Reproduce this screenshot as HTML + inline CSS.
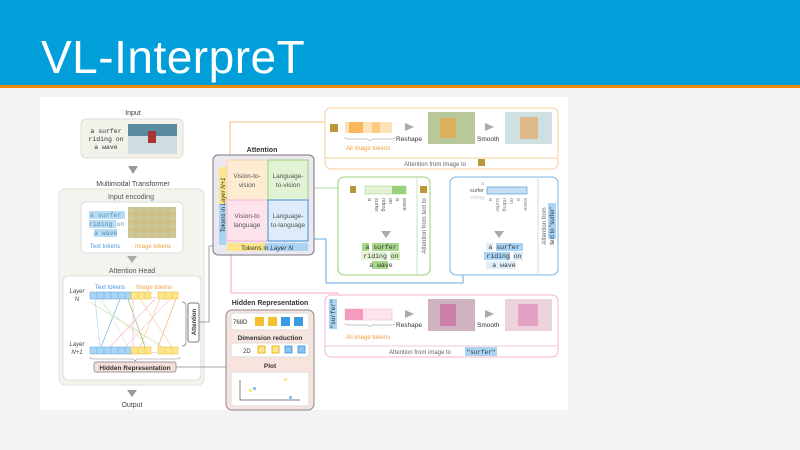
<!DOCTYPE html>
<html><head><meta charset="utf-8"><style>
html,body{margin:0;padding:0;width:800px;height:450px;overflow:hidden;background:#f3f3f3;font-family:"Liberation Sans",sans-serif}
#hdr{position:absolute;left:0;top:0;width:800px;height:85px;background:#019fda}
#ln{position:absolute;left:0;top:85px;width:800px;height:3px;background:#f08a00}
#t{position:absolute;left:41px;top:30px;color:#fff;font-size:46px;font-weight:300;letter-spacing:0.5px}
svg{position:absolute;left:0;top:0}
</style></head><body>
<div id="hdr"></div><div id="ln"></div><div id="t">VL-InterpreT</div>
<svg width="800" height="450" font-family="Liberation Sans, sans-serif">
<rect x="40" y="97" width="528" height="313" fill="#fff"/>
<text x="133" y="115" font-size="7" text-anchor="middle" fill="#444">Input</text>
<rect x="81" y="119" width="102" height="39" rx="5" fill="#f2f1ea" stroke="#e0ded4"/>
<g font-family="Liberation Mono, monospace" font-size="6.5" fill="#333" text-anchor="middle">
<text x="106" y="133">a surfer</text><text x="106" y="141">riding on</text><text x="106" y="149">a wave</text></g>
<rect x="128" y="124" width="49" height="30" fill="#5a8aa0"/><rect x="128" y="136" width="49" height="18" fill="#cfdde0"/><rect x="148" y="131" width="8" height="12" fill="#a33"/>
<path d="M128 166 L138 166 L133 174 Z" fill="#999"/>
<text x="133" y="186" font-size="7" text-anchor="middle" fill="#444">Multimodal Transformer</text>
<rect x="59" y="189" width="145" height="196" rx="6" fill="#f4f3ee" stroke="#e3e1da"/>
<text x="131" y="199" font-size="7" text-anchor="middle" fill="#555">Input encoding</text>
<rect x="81" y="202" width="102" height="51" rx="5" fill="#fff" stroke="#ddd"/>
<g fill="#b7dcf4"><rect x="89" y="211" width="36" height="8"/><rect x="89" y="220" width="27" height="8"/><rect x="94" y="229" width="23" height="8"/></g>
<g font-family="Liberation Mono, monospace" font-size="6.5" fill="#5a8db5"><text x="90" y="217">a surfer</text><text x="89" y="226">riding on</text><text x="94" y="235">a wave</text></g>
<rect x="128" y="207" width="48" height="31" fill="#c9c79a"/>
<g stroke="#f0a040" stroke-width="0.6"><path d="M128 214H176M128 222H176M128 230H176M136 207V238M144 207V238M152 207V238M160 207V238M168 207V238"/></g>
<text x="105" y="248" font-size="6" text-anchor="middle" fill="#4a9be0">Text tokens</text>
<text x="153" y="248" font-size="6" text-anchor="middle" fill="#f0a040">Image tokens</text>
<path d="M127 256 L137 256 L132 263 Z" fill="#aaa"/>
<text x="132" y="273" font-size="7" text-anchor="middle" fill="#555">Attention Head</text>
<rect x="63" y="276" width="138" height="104" rx="5" fill="#fff" stroke="#ddd"/>
<g font-size="6" font-style="italic" fill="#444" text-anchor="middle"><text x="77" y="293">Layer</text><text x="77" y="301">N</text><text x="77" y="346">Layer</text><text x="77" y="354">N+1</text></g>
<text x="110" y="289" font-size="6" text-anchor="middle" fill="#4a9be0">Text tokens</text>
<text x="154" y="289" font-size="6" text-anchor="middle" fill="#f0a040">Image tokens</text>
<g stroke-width="0.7" opacity="0.8">
<path d="M95 299L100 347" stroke="#9cc9ee"/><path d="M120 299L101 347" stroke="#4a9be0"/><path d="M102 299L128 347" stroke="#c3dff4"/>
<path d="M90 302L163 347" stroke="#b8d88a"/><path d="M97 299L150 347" stroke="#d5e8b8"/><path d="M128 299L145 347" stroke="#6bb046"/>
<path d="M155 299L110 347" stroke="#f8a0c4"/><path d="M170 299L125 347" stroke="#f9bcd4"/><path d="M160 299L140 347" stroke="#f7c082"/>
<path d="M176 299L158 347" stroke="#f0a040"/><path d="M140 299L172 347" stroke="#f5c996"/><path d="M133 299L133 347" stroke="#f8a0c4"/>
</g>
<g stroke="#5aa7e0" stroke-width="0.5">
<rect x="90" y="292" width="41" height="7" fill="#a9d4f4"/><rect x="90" y="347" width="41" height="7" fill="#a9d4f4"/>
<path d="M97 292v7M104 292v7M111 292v7M118 292v7M125 292v7M97 347v7M104 347v7M111 347v7M118 347v7M125 347v7"/></g>
<g stroke="#e6b93a" stroke-width="0.5" fill="#fde68a">
<rect x="131" y="292" width="20" height="7"/><rect x="158" y="292" width="20" height="7"/><rect x="131" y="347" width="20" height="7"/><rect x="158" y="347" width="20" height="7"/>
<path d="M138 292v7M145 292v7M165 292v7M172 292v7M138 347v7M145 347v7M165 347v7M172 347v7"/></g>
<text x="154" y="298" font-size="6" text-anchor="middle" fill="#888">…</text><text x="154" y="353" font-size="6" text-anchor="middle" fill="#888">…</text>
<path d="M182 302 q4 0 4 4 v36 q0 4 -4 4" fill="none" stroke="#777" stroke-width="0.7"/>
<rect x="188" y="303" width="11" height="39" rx="2" fill="#fff" stroke="#555" stroke-width="0.8"/>
<text transform="translate(196,322) rotate(-90)" font-size="6" font-weight="bold" text-anchor="middle" fill="#333">Attention</text>
<path d="M90 357 q0 2 3 2 h40 l2 2 l2 -2 h40 q3 0 3 -2" fill="none" stroke="#888" stroke-width="0.6"/>
<rect x="94" y="362" width="82" height="10" rx="2" fill="#f5e0dc" stroke="#777" stroke-width="0.7"/>
<text x="135" y="370" font-size="6.5" font-weight="bold" text-anchor="middle" fill="#333">Hidden Representation</text>
<path d="M127 390 L137 390 L132 397 Z" fill="#999"/>
<text x="132" y="407" font-size="7" text-anchor="middle" fill="#444">Output</text>
<g fill="none" stroke-width="0.8">
<path d="M199 322 H209 V246 H213" stroke="#888"/>
<path d="M176 367 H226" stroke="#888"/>
<path d="M230 160 V122 H325" stroke="#f5b060"/>
<path d="M308 188 H338" stroke="#9ad07a"/>
<path d="M308 239 H326 V283 H463 V275" stroke="#3c8fd8"/>
<path d="M231 241 V293 H338 V296" stroke="#f38fb6"/>
</g>
<text x="262" y="152" font-size="7" font-weight="bold" text-anchor="middle" fill="#333">Attention</text>
<rect x="213" y="155" width="101" height="100" rx="5" fill="#ebe8f2" stroke="#777"/>
<rect x="219" y="167" width="7" height="37" fill="#fde68a"/><rect x="219" y="204" width="7" height="41" fill="#a9d4f4"/>
<text transform="translate(225,205) rotate(-90)" font-size="6" text-anchor="middle" fill="#333">Tokens in <tspan font-style="italic">Layer N+1</tspan></text>
<rect x="227" y="160" width="41" height="40" fill="#fdebd2" stroke="#f7d3a6"/>
<rect x="268" y="160" width="40" height="40" fill="#e2f2d4" stroke="#9ad07a"/>
<rect x="227" y="200" width="41" height="41" fill="#fde3ec" stroke="#f6b5cd"/>
<rect x="268" y="200" width="40" height="41" fill="#ddecf8" stroke="#3c8fd8"/>
<g font-size="6.5" fill="#555" text-anchor="middle">
<text x="247" y="178">Vision-to-</text><text x="247" y="187">vision</text>
<text x="288" y="178">Language-</text><text x="288" y="187">to-vision</text>
<text x="247" y="218">Vision-to</text><text x="247" y="227">language</text>
<text x="288" y="218">Language-</text><text x="288" y="227">to-language</text></g>
<rect x="227" y="243" width="38" height="8" fill="#fde68a"/><rect x="265" y="243" width="43" height="8" fill="#a9d4f4"/>
<text x="267" y="250" font-size="6.5" text-anchor="middle" fill="#333">Tokens in <tspan font-style="italic">Layer N</tspan></text>
<text x="270" y="305" font-size="7" font-weight="bold" text-anchor="middle" fill="#333">Hidden Representation</text>
<rect x="226" y="310" width="88" height="100" rx="6" fill="#f7e4df" stroke="#888"/>
<rect x="231" y="313" width="78" height="17" rx="3" fill="#fff" stroke="#ddd"/>
<text x="233" y="324" font-size="6" fill="#333">768D</text>
<g><rect x="255" y="317" width="9" height="9" fill="#f5c030"/><rect x="268" y="317" width="9" height="9" fill="#f5c030"/><rect x="281" y="317" width="9" height="9" fill="#3c9ae0"/><rect x="294" y="317" width="9" height="9" fill="#3c9ae0"/></g>
<text x="270" y="340" font-size="6.5" font-weight="bold" text-anchor="middle" fill="#333">Dimension reduction</text>
<rect x="231" y="343" width="78" height="14" rx="3" fill="#fff" stroke="#ddd"/>
<text x="243" y="353" font-size="6" fill="#333">2D</text>
<g stroke-width="0.8"><rect x="258" y="346" width="7" height="7" fill="#fde68a" stroke="#e6a800"/><rect x="272" y="346" width="7" height="7" fill="#fde68a" stroke="#e6a800"/><rect x="285" y="346" width="7" height="7" fill="#8cc4f0" stroke="#3c8fd8"/><rect x="298" y="346" width="7" height="7" fill="#8cc4f0" stroke="#3c8fd8"/></g>
<text x="270" y="368" font-size="6.5" font-weight="bold" text-anchor="middle" fill="#333">Plot</text>
<rect x="231" y="372" width="78" height="34" rx="3" fill="#fff" stroke="#ddd"/>
<path d="M240 380 V400 H300" fill="none" stroke="#555" stroke-width="0.7"/>
<rect x="249" y="389" width="3" height="3" fill="#fde68a"/><rect x="253" y="387" width="3" height="3" fill="#8cc4f0"/><rect x="284" y="378" width="3" height="3" fill="#fde68a"/><rect x="289" y="396" width="3" height="3" fill="#8cc4f0"/>
<rect x="325" y="108" width="233" height="61" rx="6" fill="#fff" stroke="#f7cf9e"/>
<path d="M325 158 H558" stroke="#f7cf9e"/>
<rect x="330" y="124" width="8" height="8" fill="#b9973a"/>
<rect x="345" y="122" width="47" height="11" fill="#fde2b8"/><rect x="349" y="122" width="14" height="11" fill="#f9b860"/><rect x="372" y="122" width="8" height="11" fill="#fcca80"/>
<path d="M345 137 q0 2 3 2 h20 l2 2 l2 -2 h20 q3 0 3 -2" fill="none" stroke="#888" stroke-width="0.5"/>
<text x="368" y="150" font-size="6" text-anchor="middle" fill="#f0a040">All image tokens</text>
<path d="M405 123 L414 127 L405 131 Z" fill="#aaa"/>
<text x="396" y="141" font-size="6.5" fill="#333">Reshape</text>
<rect x="428" y="112" width="47" height="32" fill="#b8c89a"/><rect x="440" y="118" width="16" height="20" fill="#e8a840" opacity="0.7"/>
<path d="M485 123 L494 127 L485 131 Z" fill="#aaa"/>
<text x="477" y="141" font-size="6.5" fill="#333">Smooth</text>
<rect x="505" y="112" width="47" height="32" fill="#cfe0e0"/><rect x="520" y="117" width="18" height="22" fill="#e8a050" opacity="0.6"/>
<text x="435" y="166" font-size="6" text-anchor="middle" fill="#666">Attention from image to</text><rect x="478" y="159" width="7" height="7" fill="#b9973a"/>
<rect x="338" y="177" width="92" height="98" rx="6" fill="#fff" stroke="#9ad07a"/>
<path d="M417 177 V275" stroke="#cfe6bc"/>
<rect x="350" y="186" width="6" height="7" fill="#b9973a"/>
<rect x="365" y="186" width="41" height="8" fill="#e2f2d4" stroke="#9ad07a" stroke-width="0.5"/><rect x="392" y="186" width="14" height="8" fill="#9ad07a"/>
<g font-size="5.5" fill="#666"><text transform="translate(368,198) rotate(90)">a</text><text transform="translate(375,198) rotate(90)">surfer</text><text transform="translate(382,198) rotate(90)">riding</text><text transform="translate(389,198) rotate(90)">on</text><text transform="translate(396,198) rotate(90)">a</text><text transform="translate(403,198) rotate(90)">wave</text></g>
<path d="M381 231 L391 231 L386 238 Z" fill="#aaa"/>
<g font-family="Liberation Mono, monospace" font-size="6.5" fill="#333" text-anchor="middle">
<rect x="362" y="243" width="7" height="8" fill="#a8d68a"/><rect x="372" y="243" width="27" height="8" fill="#a8d68a"/>
<rect x="361" y="252" width="26" height="8" fill="#e2f2d4"/><rect x="390" y="252" width="10" height="8" fill="#d2ebbe"/>
<rect x="372" y="261" width="16" height="8" fill="#a8d68a"/>
<text x="381" y="249">a surfer</text><text x="381" y="258">riding on</text><text x="381" y="267">a wave</text></g>
<text transform="translate(426,226) rotate(-90)" font-size="6" text-anchor="middle" fill="#666">Attention from text to</text>
<rect x="420" y="186" width="7" height="7" fill="#b9973a"/>
<rect x="450" y="177" width="108" height="98" rx="6" fill="#fff" stroke="#7ab4e6"/>
<path d="M538 177 V275" stroke="#c6ddf2"/>
<g font-size="5.5" fill="#aaa" text-anchor="end"><text x="484" y="185">a</text><text x="484" y="192" fill="#555">surfer</text><text x="484" y="199" fill="#ccc">riding</text></g>
<rect x="487" y="187" width="40" height="7" fill="#c6ddf2" stroke="#3c8fd8" stroke-width="0.6"/>
<g font-size="5.5" fill="#888"><text transform="translate(489,198) rotate(90)">a</text><text transform="translate(496,198) rotate(90)">surfer</text><text transform="translate(503,198) rotate(90)">riding</text><text transform="translate(510,198) rotate(90)">on</text><text transform="translate(517,198) rotate(90)">a</text><text transform="translate(524,198) rotate(90)">wave</text></g>
<path d="M494 231 L504 231 L499 238 Z" fill="#aaa"/>
<g font-family="Liberation Mono, monospace" font-size="6.5" fill="#333" text-anchor="middle">
<rect x="486" y="243" width="7" height="8" fill="#e2eef8"/><rect x="496" y="243" width="27" height="8" fill="#a9d4f4"/>
<rect x="484" y="252" width="26" height="8" fill="#a9d4f4"/><rect x="513" y="252" width="10" height="8" fill="#d6e8f6"/>
<rect x="486" y="261" width="30" height="8" fill="#e2eef8"/>
<text x="504" y="249">a surfer</text><text x="504" y="258">riding on</text><text x="504" y="267">a wave</text></g>
<text transform="translate(546,226) rotate(-90)" font-size="6" text-anchor="middle" fill="#666">Attention from</text>
<rect x="548" y="203" width="8" height="36" fill="#a9d4f4"/>
<text transform="translate(554,226) rotate(-90)" font-size="6" text-anchor="middle" fill="#333">text to "surfer"</text>
<rect x="325" y="295" width="233" height="62" rx="6" fill="#fff" stroke="#f6b5cd"/>
<path d="M325 346 H558" stroke="#f6c9da"/>
<rect x="329" y="299" width="8" height="30" fill="#a9d4f4"/>
<text transform="translate(335,314) rotate(-90)" font-family="Liberation Mono, monospace" font-size="6" text-anchor="middle" fill="#333">"surfer"</text>
<rect x="345" y="309" width="47" height="11" fill="#fde3ec" stroke="#f6b5cd" stroke-width="0.5"/><rect x="345" y="309" width="18" height="11" fill="#f49cc0"/>
<path d="M345 323 q0 2 3 2 h20 l2 2 l2 -2 h20 q3 0 3 -2" fill="none" stroke="#888" stroke-width="0.5"/>
<text x="368" y="339" font-size="6" text-anchor="middle" fill="#f0a040">All image tokens</text>
<path d="M405 310 L414 314 L405 318 Z" fill="#aaa"/>
<text x="396" y="327" font-size="6.5" fill="#333">Reshape</text>
<rect x="428" y="299" width="47" height="32" fill="#cfb3c0"/><rect x="440" y="304" width="16" height="22" fill="#c8609a" opacity="0.6"/>
<path d="M485 310 L494 314 L485 318 Z" fill="#aaa"/>
<text x="477" y="327" font-size="6.5" fill="#333">Smooth</text>
<rect x="505" y="299" width="47" height="32" fill="#ecd2dc"/><rect x="518" y="304" width="20" height="22" fill="#d870a8" opacity="0.5"/>
<text x="420" y="354" font-size="6" text-anchor="middle" fill="#666">Attention from image to</text>
<rect x="465" y="347" width="32" height="9" fill="#a9d4f4"/>
<text x="481" y="354" font-family="Liberation Mono, monospace" font-size="6" text-anchor="middle" fill="#333">"surfer"</text>
</svg>
</body></html>
